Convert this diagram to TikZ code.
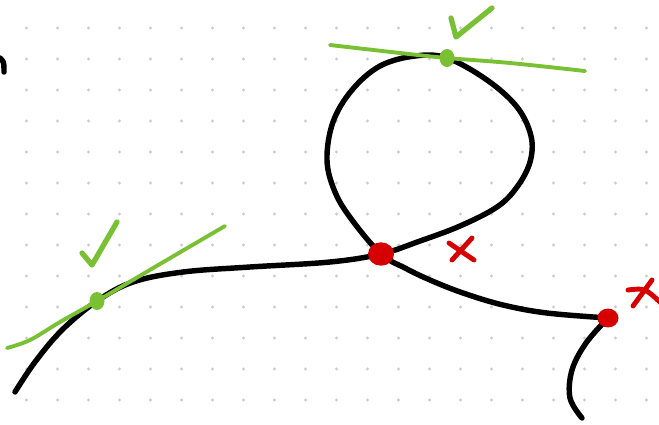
\documentclass[tikz,border=0pt]{standalone}
\usetikzlibrary{calc, shapes.geometric}

\definecolor{okgreen}{RGB}{121,192,52}
\definecolor{badred}{RGB}{214,0,0}
\definecolor{gridgray}{RGB}{204,204,204}

\begin{document}
\begin{tikzpicture}[
    x={(0.02cm,0)}, y={(0,-0.02cm)},
    curve/.style={line width=3.1pt, line cap=round, line join=round, black},
    tangent/.style={line width=2.2pt, line cap=round, okgreen},
    tick/.style={line width=3pt, line cap=round, line join=round, okgreen},
    cross/.style={line width=2.8pt, line cap=round, badred},
    okdot/.style={ellipse, fill=okgreen, minimum width=15*0.02cm, minimum height=18*0.02cm, inner sep=0pt},
    baddot/.style={ellipse, fill=badred, minimum width=#1, minimum height=#1*0.9, inner sep=0pt}
]

% Page frame
\clip (0,0) rectangle (659,424);
\fill[white] (0,0) rectangle (659,424);

% Dot grid
\foreach \i in {0,...,20}
    \foreach \j in {0,...,12}
        \fill[gridgray] (26.5+31*\i, 28+31*\j) circle (0.9pt);

% Marked points
\coordinate (tanA) at (97,301);
\coordinate (tanB) at (447,58);
\coordinate (meet) at (381,254);
\coordinate (kink) at (608,318);

% Small arc at the left edge
\draw[curve] (0,58) .. controls (4,62) .. (4,72);

% Main curve with the loop
\draw[curve] plot[smooth, tension=0.6] coordinates {
    (15,392) (35,362) (62,330) (tanA) (133,282) (183,272) (250,267)
    (330,262) (meet) (420,241) (460,226) (497,207) (517,187) (530,162)
    (531,136) (517,107) (487,80) (tanB) (415,56) (380,66) (352,90)
    (333,122) (327,160) (335,192) (352,220) (meet) (405,268) (430,280)
    (463,293) (503,305) (547,313) (kink)};

% Tail after the corner
\draw[curve] plot[smooth, tension=0.6] coordinates {
    (kink) (586,343) (572,370) (570,398) (582,418)};

% Tangent lines
\draw[tangent] plot[smooth, tension=0.6] coordinates {
    (7,348) (30,340) (60,322) (tanA) (160,264) (225,226)};
\draw[tangent] plot[smooth, tension=0.6] coordinates {
    (330,45) (400,53) (tanB) (510,63) (585,71)};

% Dots
\node[okdot] (dotA) at (tanA) {};
\node[okdot] (dotB) at (tanB) {};
\node[baddot=26*0.02cm] (dotC) at (meet) {};
\node[baddot=21*0.02cm] (dotD) at (kink) {};

% Ticks
\draw[tick] (82,253) -- (92,265) -- (117,222);
\draw[tick] (451,18) -- (456,37) -- (492,8);

% Crosses
\draw[cross] (449,243) .. controls (462,252) .. (474,260);
\draw[cross] (472,238) -- (452,260);
\draw[cross] (628,290) .. controls (645,288) .. (662,304);
\draw[cross] (652,280) -- (633,306);

\end{tikzpicture}
\end{document}
